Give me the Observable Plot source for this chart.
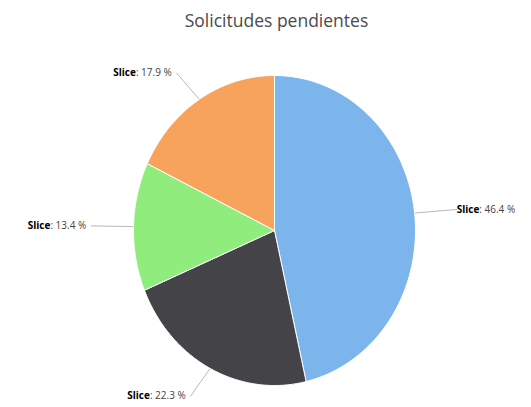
<!DOCTYPE html>
<html><head><meta charset="utf-8">
<script src="https://cdn.jsdelivr.net/npm/d3@7"></script>
<script src="https://cdn.jsdelivr.net/npm/@observablehq/plot@0.6"></script>
<style>
body{margin:0;background:#fff;}
#title{height:40px;line-height:40px;text-align:center;font-family:"Open Sans",sans-serif;font-size:17.5px;color:#4a4a4a;padding-left:22px;}
</style>
</head><body>
<div id="title">Solicitudes pendientes</div>
<div id="chart"></div>
<script>
// Data
const categories = ["Slice", "Slice", "Slice", "Slice"];
const percents = [46.4, 22.3, 13.4, 17.9];
const colors = ["#7cb5ec", "#434348", "#90ed7d", "#f7a35c"];

const arcs = d3.pie().sort(null).value(d => d)(percents);

// slice outlines in unit coordinates (angle 0 at top, clockwise)
const slicePts = arcs.flatMap((p, i) => {
  const pts = [{i, x: 0, y: 0}];
  const n = 120;
  for (let k = 0; k <= n; k++) {
    const a = p.startAngle + (p.endAngle - p.startAngle) * k / n;
    pts.push({i, x: Math.sin(a), y: Math.cos(a)});
  }
  pts.push({i, x: 0, y: 0});
  return pts;
});

const LX = 1.3, LY = 1.2;
const labels = arcs.map((p, i) => {
  const a = (p.startAngle + p.endAngle) / 2;
  const s = Math.sin(a), c = Math.cos(a);
  return {i, right: s > 0, ex: s, ey: c, lx: s * LX, ly: c * LY,
          text: categories[i] + ": " + percents[i].toFixed(1) + " %"};
});
const connectors = labels.flatMap(d => [
  {i: d.i, x: d.ex, y: d.ey},
  {i: d.i, x: d.lx, y: d.ly}
]);

const W = 531, H = 367;
const plot = Plot.plot({
  width: W, height: H,
  marginLeft: 133, marginRight: 116, marginTop: 35, marginBottom: 22,
  x: {domain: [-1, 1], axis: null},
  y: {domain: [-1, 1], axis: null},
  color: {type: "identity"},
  style: {fontFamily: "Open Sans, sans-serif", background: "#fff"},
  marks: [
    Plot.line(connectors, {x: "x", y: "y", z: "i", stroke: "#b8b8b8", strokeWidth: 1}),
    Plot.line(slicePts, {x: "x", y: "y", z: "i", fill: d => colors[d.i], stroke: "#fff", strokeWidth: 1, strokeLinejoin: "round"}),
    Plot.text(labels.filter(d => d.right), {x: "lx", y: "ly", text: "text", textAnchor: "start", dx: 0, fontSize: 10, fill: "#444", className: "lbl"}),
    Plot.text(labels.filter(d => !d.right), {x: "lx", y: "ly", text: "text", textAnchor: "end", dx: -5, fontSize: 10, fill: "#444", className: "lbl"})
  ]
});

d3.select(plot).selectAll(".lbl text").each(function() {
  const t = this.textContent;
  const idx = t.indexOf(":");
  const name = t.slice(0, idx), rest = t.slice(idx);
  const sel = d3.select(this);
  sel.text(null);
  sel.append("tspan").attr("font-weight", "bold").attr("fill", "#000").text(name);
  sel.append("tspan").text(rest);
});

document.getElementById("chart").appendChild(plot);
</script>
</body></html>
